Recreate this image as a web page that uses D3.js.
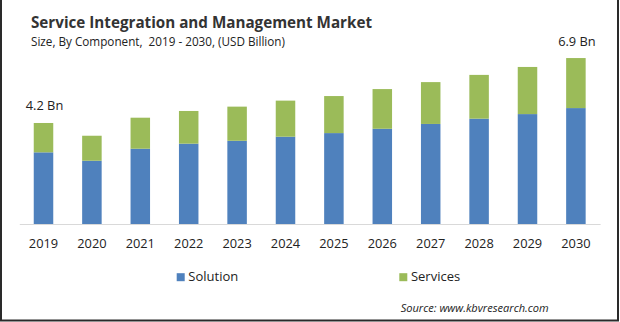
<!DOCTYPE html>
<html><head><meta charset="utf-8">
<script src="https://cdn.jsdelivr.net/npm/d3@7/dist/d3.min.js"></script>
<style>body{margin:0;background:#fff}svg{display:block}</style>
</head><body>
<svg id="c" width="620" height="322"></svg>
<script>
const years = ["2019","2020","2021","2022","2023","2024","2025","2026","2027","2028","2029","2030"];
const solution = [2.98,2.63,3.13,3.34,3.46,3.63,3.78,3.96,4.16,4.38,4.57,4.82];
const services = [1.22,1.04,1.29,1.36,1.42,1.50,1.54,1.65,1.74,1.82,1.96,2.08];
const seriesNames = ["Solution","Services"];
const endLabels = [{year:"2019", text:"4.2 Bn"},{year:"2030", text:"6.9 Bn"}];

const colors = {Solution:"#4F81BD", Services:"#9BBB59"};
const font = "'Open Sans', 'DejaVu Sans', sans-serif";
const svg = d3.select("#c");

function fit(sel, w){
  sel.each(function(){
    const len = this.getComputedTextLength();
    if (Math.abs(len - w) > 0.5) d3.select(this).attr("textLength", w).attr("lengthAdjust","spacingAndGlyphs");
  });
  return sel;
}

const table = years.map((y,i)=>({year:y, Solution:solution[i], Services:services[i]}));
const stack = d3.stack().keys(seriesNames)(table);

const x = d3.scaleBand().domain(years).range([19.3, 600.1]).paddingInner(0.597).paddingOuter(0.2985);
const y = d3.scaleLinear().domain([0,7]).range([224, 224 - 7*24.05]);

// border
svg.append("path").attr("d","M1,0V320.5H618V0").attr("fill","none").attr("stroke","#2a2a2a").attr("stroke-width",2);

// title
fit(svg.append("text").attr("x",31).attr("y",28).attr("font-family",font).attr("font-weight","bold")
  .attr("font-size",16).attr("fill","#333").text("Service Integration and Management Market"), 341);
fit(svg.append("text").attr("x",31).attr("y",46).attr("font-family",font).attr("font-size",12.5)
  .attr("fill","#222").style("white-space","pre").text("Size, By Component,  2019 - 2030, (USD Billion)"), 254);

// bars
svg.append("g").selectAll("g").data(stack).join("g").attr("fill",d=>colors[d.key])
  .selectAll("rect").data(d=>d).join("rect")
  .attr("x",d=>x(d.data.year)).attr("width",x.bandwidth())
  .attr("y",d=>y(d[1])).attr("height",d=>y(d[0])-y(d[1]));

// axis
const ax = svg.append("g").attr("transform","translate(0,224)").call(d3.axisBottom(x).tickSize(0).tickPadding(0));
ax.select(".domain").attr("stroke","#d9d9d9").attr("stroke-width",1.2);
ax.selectAll(".tick text").attr("y",23.7).attr("dy",null).attr("font-family",font).attr("font-size",12.8).attr("fill","#222");
fit(ax.selectAll(".tick text"), 29.4);

// end labels
endLabels.forEach(l=>{
  const i = years.indexOf(l.year);
  fit(svg.append("text").attr("x",x(l.year)+x.bandwidth()/2+1).attr("y",y(solution[i]+services[i])-12.5)
    .attr("text-anchor","middle").attr("font-family",font).attr("font-size",13).attr("fill","#222").text(l.text), 37.5);
});

// legend
const legX = [176.7, 399.3], legW = [50, 49];
seriesNames.forEach((n,i)=>{
  svg.append("rect").attr("x",legX[i]).attr("y",273.2).attr("width",8).attr("height",8).attr("fill",colors[n]);
  fit(svg.append("text").attr("x",legX[i]+11.6).attr("y",281).attr("font-family",font).attr("font-size",13)
    .attr("fill","#222").text(n), legW[i]);
});

// source
fit(svg.append("text").attr("x",400.7).attr("y",312).attr("font-family",font).attr("font-style","italic")
  .attr("font-size",11.5).attr("fill","#222").text("Source: www.kbvresearch.com"), 148);
</script>
</body></html>
